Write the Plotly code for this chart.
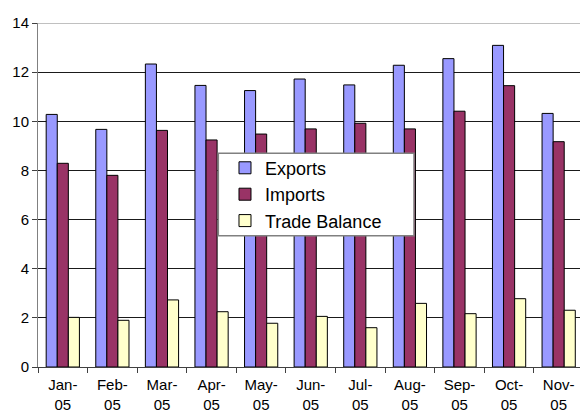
import plotly.graph_objects as go

months = ["Jan-<br>05", "Feb-<br>05", "Mar-<br>05", "Apr-<br>05", "May-<br>05", "Jun-<br>05",
          "Jul-<br>05", "Aug-<br>05", "Sep-<br>05", "Oct-<br>05", "Nov-<br>05"]
exports = [10.28, 9.67, 12.33, 11.46, 11.25, 11.72, 11.48, 12.28, 12.55, 13.09, 10.32]
imports = [8.29, 7.80, 9.63, 9.24, 9.48, 9.69, 9.92, 9.69, 10.41, 11.45, 9.17]
balance = [2.02, 1.90, 2.73, 2.25, 1.78, 2.06, 1.60, 2.59, 2.17, 2.78, 2.31]
y_ticks = [0, 2, 4, 6, 8, 10, 12, 14]

FONT = "Liberation Sans, Arial, sans-serif"

fig = go.Figure()
for name, vals, col, grp in [("Exports", exports, "#9999FF", "a"),
                             ("Imports", imports, "#993366", "b"),
                             ("Trade Balance", balance, "#FFFFCC", "c")]:
    fig.add_trace(go.Bar(x=months, y=vals, name=name, legendgroup=grp,
                         marker=dict(color=col, line=dict(color="#000000", width=1))))

fig.update_layout(
    width=580, height=414,
    margin=dict(l=38, r=0, t=23, b=47),
    paper_bgcolor="white", plot_bgcolor="white",
    font=dict(family=FONT, color="black"),
    barmode="group", bargap=0.33, bargroupgap=0,
    showlegend=True,
    legend=dict(x=0.345, y=0.632, xanchor="left", yanchor="top",
                bgcolor="rgba(0,0,0,0)", borderwidth=0,
                font=dict(size=18, family=FONT), tracegroupgap=6,
                traceorder="normal"),
    xaxis=dict(range=[-0.5, 10.43], showline=True, linecolor="#404040", linewidth=1,
               ticks="outside", tickson="boundaries", ticklen=5, tickcolor="#404040",
               ticklabelstandoff=4, automargin=False,
               tickfont=dict(size=15, family=FONT), showgrid=False, fixedrange=True),
    yaxis=dict(range=[0, 14], tickvals=y_ticks, showline=True, linecolor="#808080", linewidth=1,
               ticks="outside", ticklen=5, tickcolor="#404040", automargin=False,
               gridcolor="#1a1a1a", gridwidth=1, zeroline=False,
               tickfont=dict(size=15, family=FONT), fixedrange=True),
)
# plot-area top border (light grey) and legend frame
fig.add_shape(type="line", xref="paper", yref="y", x0=0, x1=1, y0=14, y1=14,
              line=dict(color="#C0C0C0", width=2), layer="above")
fig.add_shape(type="rect", xref="paper", yref="paper", x0=0.3327, x1=0.6937, y0=0.3817, y1=0.6212,
              fillcolor="white", line=dict(color="#808080", width=1.5), layer="above")
fig.write_html("out.html", config={"displayModeBar": False},
               post_script="document.body.style.margin='0';")
